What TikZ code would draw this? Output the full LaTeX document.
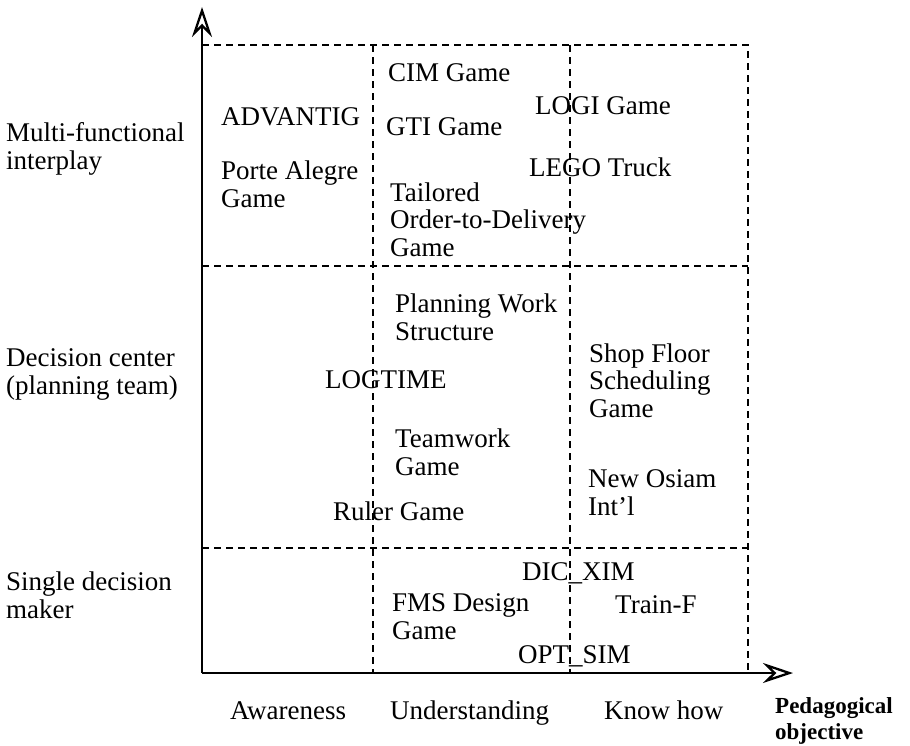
\documentclass[tikz,border=0pt]{standalone}
\usepackage{fontspec}
\setmainfont{Liberation Serif}
\usetikzlibrary{arrows.meta}
\begin{document}
\begin{tikzpicture}[x=1pt,y=-1pt,
  lbl/.style={anchor=base west,inner sep=0pt,align=left,
    font=\fontsize{27}{27.5}\selectfont},
  boldlbl/.style={anchor=base west,inner sep=0pt,align=left,
    font=\fontsize{23}{25.5}\selectfont\bfseries},
  grid/.style={line width=1.8pt,dash pattern=on 7pt off 5pt},
  axis/.style={line width=2.3pt,-{Stealth[open,length=30pt,width=20pt,inset=10pt,line width=2.3pt]}}]
\useasboundingbox (0,0) rectangle (910,745);
% frame coordinates
\coordinate (O) at (202,673);
\coordinate (Ytip) at (202,7);
\coordinate (Xtip) at (793,673);
\coordinate (TL) at (202,45);
\coordinate (TR) at (748,45);
\coordinate (BR) at (748,673);
\coordinate (V1t) at (373,45);
\coordinate (V1b) at (373,673);
\coordinate (V2t) at (570,45);
\coordinate (V2b) at (570,673);
\coordinate (H1l) at (202,266);
\coordinate (H1r) at (748,266);
\coordinate (H2l) at (202,548);
\coordinate (H2r) at (748,548);
% dashed grid
\draw[grid] (TL) -- (TR) -- (BR);
\draw[grid] (V1t) -- (V1b);
\draw[grid] (V2t) -- (V2b);
\draw[grid] (H1l) -- (H1r);
\draw[grid] (H2l) -- (H2r);
% axes
\draw[axis] (O) -- (Ytip);
\draw[axis] (O) -- (Xtip);
% row labels (anchor = baseline of the last line)
\node[lbl] (multi) at (6,169) {Multi-functional\\interplay};
\node[lbl] (deci) at (6,394) {Decision center\\(planning team)};
\node[lbl] (single) at (6,618) {Single decision\\maker};
% top row
\node[lbl] (advantig) at (221,125) {ADVANTIG};
\node[lbl] (porte) at (221,207) {Porte Alegre\\Game};
\node[lbl] (cim) at (388,81) {CIM Game};
\node[lbl] (gti) at (386,135) {GTI Game};
\node[lbl] (tailored) at (390,256) {Tailored\\Order-to-Delivery\\Game};
\node[lbl] (logi) at (535,114) {LOGI Game};
\node[lbl] (lego) at (529,176) {LEGO Truck};
% middle row
\node[lbl] (planning) at (395,340) {Planning Work\\Structure};
\node[lbl] (logtime) at (325,388) {LOGTIME};
\node[lbl] (teamwork) at (395,475) {Teamwork\\Game};
\node[lbl] (ruler) at (333,520) {Ruler Game};
\node[lbl] (shop) at (589,417) {Shop Floor\\Scheduling\\Game};
\node[lbl] (osiam) at (588,515) {New Osiam\\Int'l};
% bottom row
\node[lbl] (dic) at (522,580) {DIC\_XIM};
\node[lbl] (fms) at (392,639) {FMS Design\\Game};
\node[lbl] (train) at (615,613) {Train-F};
\node[lbl] (opt) at (518,663) {OPT\_SIM};
% column labels
\node[lbl] (aware) at (230,719) {Awareness};
\node[lbl] (under) at (390,719) {Understanding};
\node[lbl] (know) at (604,719) {Know how};
\node[boldlbl] (peda) at (775,739) {Pedagogical\\objective};
\end{tikzpicture}
\end{document}
